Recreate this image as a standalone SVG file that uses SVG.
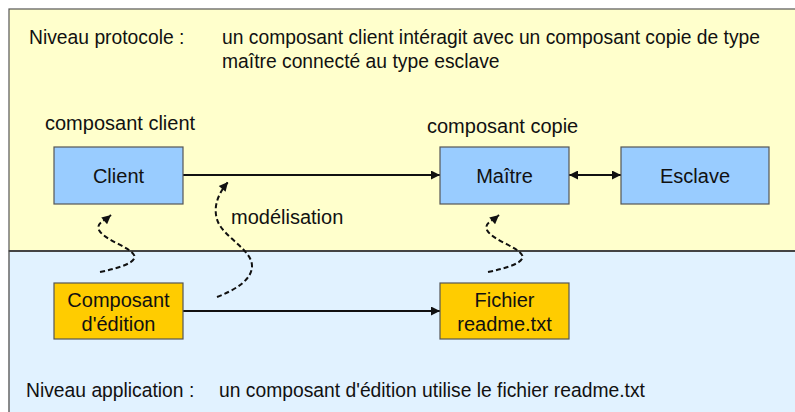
<svg xmlns="http://www.w3.org/2000/svg" width="795" height="412" viewBox="0 0 795 412">
<defs>
<style>
text{font-family:"Liberation Sans",Arial,sans-serif;fill:#111}
.hd{font-size:19.3px}
.lb{font-size:20px}
.nl{font-size:20px;text-anchor:middle}
.blue{fill:#99CCFF;stroke:#555;stroke-width:1.2}
.org{fill:#FFCC00;stroke:#555;stroke-width:1.2}
.ln{fill:none;stroke:#111;stroke-width:2}
.dash{fill:none;stroke:#111;stroke-width:2;stroke-dasharray:5 3}
</style>
<marker id="ah" viewBox="0 0 10 10" refX="10" refY="5" markerWidth="11" markerHeight="9" markerUnits="userSpaceOnUse" orient="auto-start-reverse">
<path d="M0,0 L10,5 L0,10 z" fill="#111"/>
</marker>
</defs>
<rect x="9" y="9" width="800" height="242" fill="#FFFFCC" stroke="#555" stroke-width="1.2"/>
<rect x="9" y="251" width="800" height="180" fill="#E1F2FF" stroke="#666" stroke-width="1.5"/>
<line x1="9" y1="251" x2="795" y2="251" stroke="#444" stroke-width="2"/>
<text class="hd" x="29" y="44">Niveau protocole :</text>
<text class="hd" x="222" y="44">un composant client intéragit avec un composant copie de type</text>
<text class="hd" x="222" y="68">maître connecté au type esclave</text>
<text class="lb" x="45" y="130">composant client</text>
<text class="lb" x="427" y="133">composant copie</text>
<text class="lb" x="231" y="224">modélisation</text>
<text class="hd" x="26" y="397">Niveau application :</text>
<text class="hd" x="219" y="397">un composant d'édition utilise le fichier readme.txt</text>
<g id="connectors">
<line class="ln" x1="183" y1="175" x2="440" y2="175" marker-end="url(#ah)"/>
<line class="ln" x1="569" y1="175" x2="621" y2="175" marker-start="url(#ah)" marker-end="url(#ah)"/>
<line class="ln" x1="183" y1="311" x2="440" y2="311" marker-end="url(#ah)"/>
<path class="dash" d="M100,272 C120,268 138,262 134,255 C130,247 104,240 99,230 C96,223 104,221 111,215" marker-end="url(#ah)"/>
<path class="dash" d="M488,272 C508,268 526,262 522,255 C518,247 492,240 487,230 C484,223 492,221 499,215" marker-end="url(#ah)"/>
<path class="dash" d="M217,297 C235,290 252,280 252,266 C252,250 225,238 218,222 C213,210 216,196 228,182" marker-end="url(#ah)"/>
</g>
<g id="client">
<rect class="blue" x="54" y="147" width="129" height="57"/>
<text class="nl" x="118.5" y="183">Client</text>
</g>
<g id="maitre">
<rect class="blue" x="440" y="147" width="129" height="57"/>
<text class="nl" x="504.5" y="183">Maître</text>
</g>
<g id="esclave">
<rect class="blue" x="621" y="147" width="148" height="57"/>
<text class="nl" x="695" y="183">Esclave</text>
</g>
<g id="composant-edition">
<rect class="org" x="54" y="283" width="129" height="56"/>
<text class="nl" x="118.5" y="307">Composant</text>
<text class="nl" x="118.5" y="331">d'édition</text>
</g>
<g id="fichier">
<rect class="org" x="440" y="283" width="129" height="56"/>
<text class="nl" x="504.5" y="307">Fichier</text>
<text class="nl" x="504.5" y="331">readme.txt</text>
</g>
</svg>
